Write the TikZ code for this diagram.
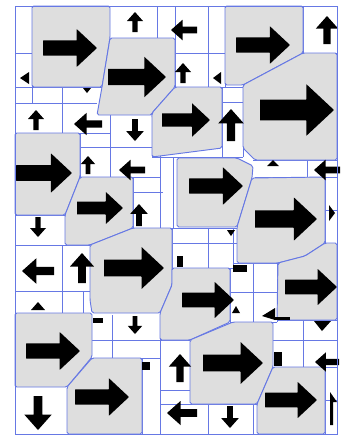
\documentclass[tikz,border=0pt]{standalone}
\definecolor{gl}{HTML}{6678E4}
\definecolor{pg}{HTML}{DEDEDE}
\tikzset{
  gridline/.style={draw=gl, line width=0.7pt},
  region/.style={fill=pg, draw=gl, line width=0.8pt, rounded corners=1.5pt},
  arr/.pic={\fill[black, rounded corners=0.3pt] (-1,-0.28) -- (0.25,-0.28) -- (0.25,-0.7) -- (1,0) -- (0.25,0.7) -- (0.25,0.28) -- (-1,0.28) -- cycle;},
  sarr/.pic={\fill[black] (-1,-0.26) -- (0.1,-0.26) -- (0.1,-0.8) -- (1,0) -- (0.1,0.8) -- (0.1,0.26) -- (-1,0.26) -- cycle;},
}
\begin{document}
\begin{tikzpicture}[x=0.03cm,y=-0.03cm]
\useasboundingbox (0,0) rectangle (341,437);
\fill[white] (0,0) rectangle (341,437);
% grid lines
\foreach \a/\b/\c/\d in {
 32/6/32/103, 15/53/32/53, 15/87/102/87, 15/103/97/103, 62/87/62/133,
 15/133/110/133, 110/115/110/147, 152/113/152/157, 80/147/152/147,
 80/133/80/177, 110/147/110/177, 80/177/160/177, 133/177/133/228,
 133/192/163/192, 160/147/160/228, 157/6/157/38, 175/6/175/87,
 208/6/208/87, 225/6/225/87, 175/53/225/53, 175/87/243/87,
 303/6/303/53, 303/53/337/53, 222/87/222/157, 243/85/243/157,
 222/102/243/102, 152/157/243/157, 173/157/173/228,
 253/160/337/160, 307/160/307/177, 255/177/337/177, 325/177/325/245,
 325/210/337/210, 325/245/337/245,
 15/215/65/215, 15/245/90/245, 62/245/62/313, 83/291/83/313,
 15/291/90/291, 15/313/90/313,
 160/228/237/228, 172/243/237/243, 172/268/237/268, 208/228/208/268,
 233/228/233/268, 172/228/172/290, 233/263/280/263, 253/263/253/322,
 277/263/277/322, 230/292/277/292, 230/268/230/322, 230/322/277/322,
 277/320/337/320, 273/340/337/340, 303/320/303/367, 273/367/337/367,
 325/367/325/434, 325/400/337/400,
 90/340/160/340, 90/358/160/358, 112/315/112/358, 142/358/142/434,
 160/315/160/434, 160/340/190/340, 160/390/190/390, 160/404/257/404,
 208/404/208/434, 253/404/253/434}
 {\draw[gridline] (\a,\b) -- (\c,\d);}
% gray regions
\draw[region] (32,6) -- (110,6) -- (110,38) -- (102,87) -- (32,87) -- cycle;
\draw[region] (110,38) -- (175,38) -- (175,87) -- (152,113) -- (152,115) -- (97,115) -- (102,87) -- cycle;
\draw[region] (225,6) -- (303,6) -- (303,53) -- (243,85) -- (225,85) -- cycle;
\draw[region] (243,85) -- (303,53) -- (337,53) -- (337,160) -- (255,160) -- (243,148) -- cycle;
\draw[region] (152,113) -- (175,87) -- (222,87) -- (222,148) -- (152,157) -- cycle;
\draw[region] (15,133) -- (80,133) -- (80,177) -- (65,215) -- (15,215) -- cycle;
\draw[region] (80,177) -- (133,177) -- (133,228) -- (90,245) -- (65,245) -- (65,215) -- cycle;
\draw[region] (177,158) -- (237,158) -- (253,166) -- (252,178) -- (237,227) -- (177,227) -- cycle;
\draw[region] (252,178) -- (325,177) -- (325,243) -- (305,256) -- (278,263) -- (237,263) -- (237,227) -- cycle;
\draw[region] (90,245) -- (133,228) -- (172,228) -- (172,285) -- (160,313) -- (92,313) -- (90,300) -- cycle;
\draw[region] (172,285) -- (172,268) -- (230,268) -- (230,322) -- (190,340) -- (160,340) -- (160,313) -- cycle;
\draw[region] (278,263) -- (305,256) -- (325,243) -- (337,243) -- (337,320) -- (277,320) -- cycle;
\draw[region] (15,313) -- (92,313) -- (92,357) -- (67,387) -- (15,387) -- cycle;
\draw[region] (67,387) -- (92,358) -- (142,358) -- (142,434) -- (67,434) -- cycle;
\draw[region] (190,340) -- (233,322) -- (273,322) -- (273,367) -- (257,404) -- (190,404) -- cycle;
\draw[region] (273,367) -- (325,367) -- (325,434) -- (257,434) -- (257,404) -- cycle;
% big arrows
\pic[scale=27] at (70,48) {arr};
\pic[scale=29] at (137,77) {arr};
\pic[scale=27] at (263,45) {arr};
\pic[scale=37] at (297,110) {arr};
\pic[scale=24] at (186,120) {arr};
\pic[scale=28] at (44,173) {arr};
\pic[scale=23] at (100,208) {arr};
\pic[scale=27] at (216,186) {arr};
\pic[scale=31] at (286,219) {arr};
\pic[scale=30] at (134,268) {arr};
\pic[scale=26] at (208,300) {arr};
\pic[scale=26] at (311,287) {arr};
\pic[scale=27] at (53,351) {arr};
\pic[scale=27] at (102,397) {arr};
\pic[scale=30] at (233,363) {arr};
\pic[scale=26] at (291,400) {arr};
% small arrows
\pic[scale=10,rotate=90] at (135,22) {sarr};
\pic[scale=13,rotate=180] at (184,30) {sarr};
\pic[scale=10,rotate=90] at (183,73) {sarr};
\pic[scale=14,rotate=90] at (327,30) {sarr};
\pic[scale=16,rotate=90] at (231,125) {sarr};
\pic[scale=10,rotate=90] at (36,120) {sarr};
\pic[scale=14,rotate=180] at (88,124) {sarr};
\pic[scale=11,rotate=-90] at (135,130) {sarr};
\pic[scale=9,rotate=90] at (88,165) {sarr};
\pic[scale=13,rotate=180] at (132,170) {sarr};
\pic[scale=11,rotate=90] at (139,215) {sarr};
\pic[scale=10,rotate=-90] at (38,227) {sarr};
\pic[scale=16,rotate=180] at (38,271) {sarr};
\pic[scale=15,rotate=90] at (82,268) {sarr};
\pic[scale=9,rotate=-90] at (135,325) {sarr};
\pic[scale=17,rotate=-90] at (38,413) {sarr};
\pic[scale=14,rotate=90] at (180,368) {sarr};
\pic[scale=15,rotate=180] at (182,413) {sarr};
\pic[scale=11,rotate=-90] at (230,417) {sarr};
\pic[scale=13,rotate=180] at (327,170) {sarr};
\pic[scale=12,rotate=180] at (327,362) {sarr};
% partial arrow fragments
\fill[black] (20,78) -- (29,72) -- (29,84) -- cycle;
\fill[black] (83,88) -- (91,88) -- (87,93) -- cycle;
\fill[black] (213,78) -- (221,72) -- (221,84) -- cycle;
\fill[black] (31,310) -- (45,310) -- (38,302) -- cycle;
\fill[black] (267,166) -- (279,166) -- (273,160) -- cycle;
\fill[black] (329,205) -- (335,213) -- (329,221) -- cycle;
\fill[black] (314,321) -- (331,321) -- (322,331) -- cycle;
\fill[black] (274,352) rectangle (282,366);
\fill[black] (177,256) rectangle (183,267);
\fill[black] (227,230) -- (235,230) -- (231,236) -- cycle;
\fill[black] (233,265) rectangle (247,272);
\fill[black] (232,313) -- (240,313) -- (236,306) -- cycle;
\fill[black] (262,316) -- (275,308) -- (275,320) -- cycle;
\fill[black] (275,317) rectangle (290,320);
\fill[black] (142,362) rectangle (150,370);
\fill[black] (93,318) rectangle (103,323);
\fill[black] (330,392) -- (337,402) -- (333,402) -- (333,425) -- (330,425) -- cycle;
% frame
\draw[gl, line width=0.8pt] (15,6) rectangle (337,434);
\end{tikzpicture}
\end{document}
